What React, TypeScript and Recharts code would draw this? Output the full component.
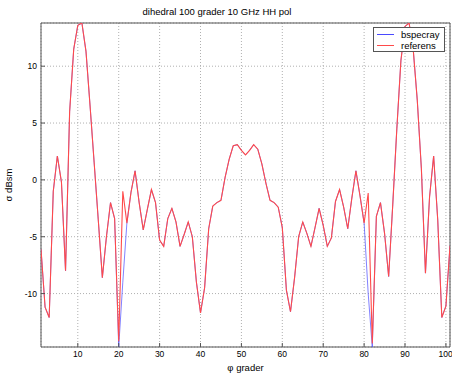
import React from 'react';
import { LineChart, Line, XAxis, YAxis, CartesianGrid, ReferenceArea } from 'recharts';

const angles = [
  1, 2, 3, 4, 5, 6, 7, 8, 9, 10, 11, 12, 13, 14, 15, 16, 17, 18, 19, 20,
  21, 22, 23, 24, 25, 26, 27, 28, 29, 30, 31, 32, 33, 34, 35, 36, 37, 38, 39, 40,
  41, 42, 43, 44, 45, 46, 47, 48, 49, 50, 51, 52, 53, 54, 55, 56, 57, 58, 59, 60,
  61, 62, 63, 64, 65, 66, 67, 68, 69, 70, 71, 72, 73, 74, 75, 76, 77, 78, 79, 80,
  81, 82, 83, 84, 85, 86, 87, 88, 89, 90, 91, 92, 93, 94, 95, 96, 97, 98, 99, 100, 101,
];

const referens = [
  -6.1, -11.2, -12.1, -1.0, 2.1, -0.2, -8.0, 6.0, 11.5, 13.6,
  13.8, 11.3, 6.5, 1.5, -3.5, -8.6, -5.0, -2.0, -3.4, -14.2,
  -1.0, -3.8, -1.1, 0.8, -2.0, -4.4, -2.6, -0.85, -2.0, -5.3,
  -5.85, -3.4, -2.5, -3.7, -5.85, -4.8, -3.7, -5.0, -9.0, -11.7,
  -9.5, -4.3, -2.3, -2.0, -1.8, 0.2, 1.8, 3.0, 3.1, 2.6,
  2.2, 2.6, 3.1, 2.7, 1.4, -0.3, -1.8, -2.0, -2.4, -4.2,
  -9.7, -11.6, -8.6, -5.0, -3.7, -4.7, -5.85, -4.2, -2.5, -4.0,
  -5.85, -5.1, -1.9, -0.85, -2.4, -4.3, -1.6, 0.8, -1.4, -3.8,
  -1.15, -14.4, -3.2, -2.0, -4.7, -8.5, -2.2, 4.5, 10.5, 13.5,
  13.8, 11.5, 7.0, 1.0, -8.2, -1.5, 2.1, -3.5, -12.1, -11.1,
  -5.8,
];

const bspecray = [
  -6.1, -11.2, -12.1, -1.0, 2.1, -0.2, -8.0, 6.0, 11.5, 13.6,
  13.8, 11.3, 6.5, 1.5, -3.5, -8.6, -5.0, -2.0, -3.4, -14.7,
  -9.0, -3.8, -1.1, 0.8, -2.0, -4.4, -2.6, -0.85, -2.0, -5.3,
  -5.85, -3.4, -2.5, -3.7, -5.85, -4.8, -3.7, -5.0, -9.0, -11.7,
  -9.5, -4.3, -2.3, -2.0, -1.8, 0.2, 1.8, 3.0, 3.1, 2.6,
  2.2, 2.6, 3.1, 2.7, 1.4, -0.3, -1.8, -2.0, -2.4, -4.2,
  -9.7, -11.6, -8.6, -5.0, -3.7, -4.7, -5.85, -4.2, -2.5, -4.0,
  -5.85, -5.1, -1.9, -0.85, -2.4, -4.3, -1.6, 0.8, -1.4, -3.8,
  -10.0, -14.7, -3.2, -2.0, -4.7, -8.5, -2.2, 4.5, 10.5, 13.5,
  13.8, 11.5, 7.0, 1.0, -8.2, -1.5, 2.1, -3.5, -12.1, -11.1,
  -5.8,
];

const xTicks = [10, 20, 30, 40, 50, 60, 70, 80, 90, 100];
const yTicks = [-10, -5, 0, 5, 10];
const xRange = [1, 101];
const yRange = [-14.7, 13.8];

const FONT = '"Liberation Sans", Arial, Helvetica, sans-serif';

const data = angles.map((phi, i) => ({
  phi,
  bspecray: bspecray[i],
  referens: referens[i],
}));

const tickStyle = { fontSize: 8.5, fill: '#000', fontFamily: FONT };

const BLUE = '#4a4aff';
const RED = '#ff4a4a';

export default function App() {
  return (
    <div
      style={{
        position: 'absolute',
        left: 0,
        top: 0,
        width: 452,
        height: 376,
        background: '#fff',
        fontFamily: FONT,
      }}
    >
      <div
        style={{
          position: 'absolute',
          left: 0,
          width: 434,
          top: 6,
          textAlign: 'center',
          fontSize: 9.5,
          color: '#000',
        }}
      >
        dihedral 100 grader 10 GHz HH pol
      </div>

      <LineChart
        width={452}
        height={376}
        data={data}
        margin={{ top: 23, right: 2, bottom: 0, left: 0 }}
      >
        <CartesianGrid stroke="#b0b0b0" strokeDasharray="1 2" />
        <XAxis
          dataKey="phi"
          type="number"
          domain={xRange}
          ticks={xTicks}
          allowDataOverflow
          height={29}
          axisLine={false}
          tickSize={-4}
          tickMargin={8}
          stroke="#555"
          tick={tickStyle}
          label={{ value: 'φ grader', position: 'insideBottom', offset: 5, fontSize: 9.5, fill: '#000', fontFamily: FONT }}
        />
        <YAxis
          type="number"
          domain={yRange}
          ticks={yTicks}
          allowDataOverflow
          width={41}
          axisLine={false}
          tickSize={-4}
          tickMargin={8}
          stroke="#555"
          tick={tickStyle}
          label={{
            value: 'σ dBsm',
            angle: -90,
            position: 'insideLeft',
            offset: 9,
            fontSize: 9.5,
            fill: '#000',
            fontFamily: FONT,
            style: { textAnchor: 'middle' },
          }}
        />
        <ReferenceArea
          x1={xRange[0]}
          x2={xRange[1]}
          y1={yRange[0]}
          y2={yRange[1]}
          fill="none"
          stroke="#555"
          strokeWidth={1}
        />
        <Line
          type="linear"
          dataKey="bspecray"
          stroke={BLUE}
          strokeWidth={0.7}
          dot={false}
          isAnimationActive={false}
        />
        <Line
          type="linear"
          dataKey="referens"
          stroke={RED}
          strokeWidth={1.1}
          dot={false}
          isAnimationActive={false}
        />
      </LineChart>

      <div
        style={{
          position: 'absolute',
          left: 373,
          top: 27,
          width: 72,
          height: 25,
          boxSizing: 'border-box',
          border: '1px solid #555',
          background: '#fff',
          fontSize: 9.5,
          color: '#000',
        }}
      >
        {[
          { name: 'bspecray', color: BLUE },
          { name: 'referens', color: RED },
        ].map((item, i) => (
          <div
            key={item.name}
            style={{ position: 'absolute', left: 3, top: 1 + i * 11, height: 11, display: 'flex', alignItems: 'center' }}
          >
            <div style={{ width: 17, height: 1, background: item.color, marginRight: 7 }} />
            <span style={{ lineHeight: '11px' }}>{item.name}</span>
          </div>
        ))}
      </div>
    </div>
  );
}
